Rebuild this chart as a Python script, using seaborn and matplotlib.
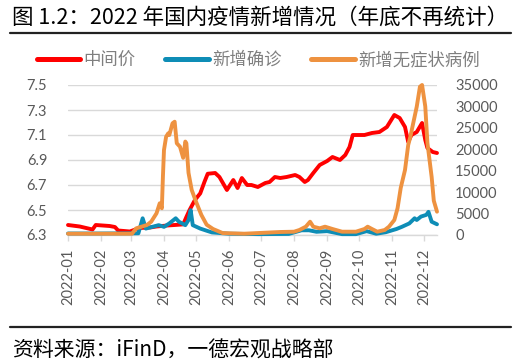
import pandas as pd
import matplotlib
matplotlib.use('Agg')
import matplotlib.pyplot as plt
import matplotlib.dates as mdates
from matplotlib.lines import Line2D
from matplotlib.ticker import FuncFormatter
import seaborn as sns

# 中间价 (left axis)
rate_dates = ['2022-01-01', '2022-01-12', '2022-01-24', '2022-01-27', '2022-02-09', '2022-02-14',
              '2022-02-17', '2022-02-28', '2022-03-09', '2022-03-19', '2022-03-25', '2022-04-04',
              '2022-04-11', '2022-04-19', '2022-04-22', '2022-04-25', '2022-04-30', '2022-05-05',
              '2022-05-09', '2022-05-12', '2022-05-19', '2022-05-23', '2022-05-30', '2022-06-05',
              '2022-06-09', '2022-06-13', '2022-06-18', '2022-06-22', '2022-06-28', '2022-07-05',
              '2022-07-09', '2022-07-14', '2022-07-19', '2022-07-25', '2022-08-02', '2022-08-06',
              '2022-08-11', '2022-08-14', '2022-08-19', '2022-08-25', '2022-09-01', '2022-09-06',
              '2022-09-13', '2022-09-18', '2022-09-22', '2022-09-25', '2022-09-30', '2022-10-06',
              '2022-10-13', '2022-10-20', '2022-10-27', '2022-11-03', '2022-11-08', '2022-11-13',
              '2022-11-16', '2022-11-19', '2022-11-24', '2022-11-29', '2022-12-02', '2022-12-04',
              '2022-12-09', '2022-12-13']
rate_values = [6.38, 6.368, 6.344, 6.38, 6.372, 6.364,
               6.336, 6.328, 6.356, 6.36, 6.368, 6.376,
               6.38, 6.385, 6.444, 6.50, 6.58, 6.633,
               6.726, 6.79, 6.796, 6.764, 6.66, 6.74,
               6.676, 6.756, 6.70, 6.70, 6.684, 6.716,
               6.724, 6.764, 6.756, 6.764, 6.78, 6.764,
               6.724, 6.74, 6.796, 6.86, 6.892, 6.924,
               6.90, 6.94, 7.004, 7.10, 7.10, 7.10,
               7.116, 7.124, 7.164, 7.26, 7.236, 7.164,
               7.044, 7.10, 7.124, 7.196, 7.06, 6.996,
               6.964, 6.956]

# 新增确诊 (right axis)
conf_dates = ['2022-01-01', '2022-01-31', '2022-03-08', '2022-03-12', '2022-03-15', '2022-03-21',
              '2022-03-27', '2022-04-01', '2022-04-06', '2022-04-12', '2022-04-15', '2022-04-18',
              '2022-04-21', '2022-04-24', '2022-04-26', '2022-04-28', '2022-05-05', '2022-05-11',
              '2022-05-16', '2022-06-01', '2022-06-29', '2022-07-27', '2022-08-08', '2022-08-15',
              '2022-08-22', '2022-09-01', '2022-09-06', '2022-09-15', '2022-09-28', '2022-10-08',
              '2022-10-17', '2022-10-26', '2022-11-05', '2022-11-10', '2022-11-17', '2022-11-22',
              '2022-11-24', '2022-11-28', '2022-12-03', '2022-12-05', '2022-12-08', '2022-12-13']
conf_values = [350, 350, 400, 3900, 1500, 1900,
               2300, 1900, 2700, 3900, 3100, 2700,
               2300, 3500, 5800, 2300, 1500, 1000,
               600, 300, 200, 250, 1100, 1100,
               750, 900, 650, 200, 200, 900,
               300, 650, 1400, 1900, 2700, 3900,
               3500, 4300, 4700, 5400, 3100, 2500]

# 新增无症状病例 (right axis)
asym_dates = ['2022-01-01', '2022-03-02', '2022-03-06', '2022-03-16', '2022-03-20', '2022-03-25',
              '2022-03-28', '2022-03-30', '2022-03-31', '2022-04-01', '2022-04-03', '2022-04-05',
              '2022-04-06', '2022-04-09', '2022-04-11', '2022-04-13', '2022-04-16', '2022-04-19',
              '2022-04-21', '2022-04-22', '2022-04-24', '2022-04-27', '2022-05-01', '2022-05-06',
              '2022-05-11', '2022-05-17', '2022-05-26', '2022-06-15', '2022-07-19', '2022-08-01',
              '2022-08-06', '2022-08-09', '2022-08-12', '2022-08-16', '2022-08-19', '2022-08-25',
              '2022-08-30', '2022-09-06', '2022-09-15', '2022-09-28', '2022-10-06', '2022-10-09',
              '2022-10-13', '2022-10-18', '2022-10-25', '2022-10-29', '2022-11-03', '2022-11-06',
              '2022-11-09', '2022-11-13', '2022-11-16', '2022-11-18', '2022-11-20', '2022-11-24',
              '2022-11-27', '2022-11-29', '2022-12-02', '2022-12-04', '2022-12-08', '2022-12-10',
              '2022-12-13']
asym_values = [300, 300, 1560, 2330, 3100, 5060,
               7400, 6230, 13600, 19830, 22930, 23730,
               23330, 26060, 26430, 21400, 20600, 18000,
               21800, 21400, 14500, 10500, 7800, 4700,
               2400, 1400, 450, 300, 700, 770,
               1170, 1560, 1940, 3100, 1940, 1560,
               1940, 1400, 770, 770, 1400, 1940,
               1400, 770, 1170, 1940, 3500, 6230,
               11000, 15170, 21000, 22930, 25270, 29930,
               34600, 35000, 30000, 21500, 13500, 8000,
               5440]

labels = ['中间价', '新增确诊', '新增无症状病例']
colors = ['#FF0000', '#0E8DB6', '#EE9240']
left_ticks = [6.3, 6.5, 6.7, 6.9, 7.1, 7.3, 7.5]
right_ticks = [0, 5000, 10000, 15000, 20000, 25000, 30000, 35000]

sns.set_style('white')
plt.rcParams['font.family'] = ['Lato', 'Noto Sans CJK SC', 'DejaVu Sans']
cjk = ['Noto Sans CJK SC', 'DejaVu Sans']
grey = '#595959'
light = '#d9d9d9'

rate = pd.DataFrame({'date': pd.to_datetime(rate_dates), 'value': rate_values})
conf = pd.DataFrame({'date': pd.to_datetime(conf_dates), 'value': conf_values})
asym = pd.DataFrame({'date': pd.to_datetime(asym_dates), 'value': asym_values})

fig = plt.figure(figsize=(5.27, 3.63), dpi=100)
ax = fig.add_axes([68 / 527, 1 - 235 / 363, 369 / 527, 150 / 363])
ax2 = ax.twinx()

line_kw = dict(lw=2.8, solid_joinstyle='round', solid_capstyle='round', clip_on=False)
sns.lineplot(data=rate, x='date', y='value', ax=ax, color=colors[0], **line_kw)
sns.lineplot(data=conf, x='date', y='value', ax=ax2, color=colors[1], **line_kw)
sns.lineplot(data=asym, x='date', y='value', ax=ax2, color=colors[2], **line_kw)

ax.set_xlim(pd.Timestamp('2022-01-01'), pd.Timestamp('2022-12-13'))
ax.set_ylim(6.3, 7.5)
ax2.set_ylim(0, 35000)
ax.set_yticks(left_ticks)
ax2.set_yticks(right_ticks)
ax.yaxis.set_major_formatter(FuncFormatter(lambda v, p: f'{v:.1f}'))
ax2.yaxis.set_major_formatter(FuncFormatter(lambda v, p: f'{int(v)}'))
ax.set_xlabel('')
ax.set_ylabel('')
ax2.set_ylabel('')

ax.xaxis.set_major_locator(mdates.MonthLocator())
ax.xaxis.set_major_formatter(mdates.DateFormatter('%Y-%m'))
ax.tick_params(axis='x', rotation=90, length=4, width=1, color=light,
               labelcolor=grey, labelsize=10.5, pad=6, bottom=True)
ax.tick_params(axis='y', length=0, pad=15, labelcolor=grey, labelsize=10.5)
ax2.tick_params(axis='y', length=0, pad=13, labelcolor=grey, labelsize=10.5)

ax.grid(axis='y', color=light, lw=1)
ax.grid(axis='x', visible=False)
for side in ['top', 'left', 'right']:
    ax.spines[side].set_visible(False)
ax.spines['bottom'].set_color(light)
ax.spines['bottom'].set_linewidth(1)
for side in ax2.spines:
    ax2.spines[side].set_visible(False)

handles = [Line2D([], [], color=c, lw=3.6, solid_capstyle='round') for c in colors]
fig.legend(handles, labels, loc='center', bbox_to_anchor=(0.49, 1 - 60 / 363), ncol=3,
           frameon=False, handlelength=2.5, handletextpad=0.2, columnspacing=1.7,
           prop={'family': cjk, 'size': 12.5}, labelcolor='#7f7f7f')

fig.text(12 / 527, 1 - 18 / 363, '图 1.2：2022 年国内疫情新增情况（年底不再统计）',
         fontsize=15.5, family=cjk, color='black', ha='left', va='center')
fig.add_artist(Line2D([10 / 527, 511 / 527], [1 - 33 / 363] * 2, transform=fig.transFigure,
                      color='#222222', lw=1.6))
fig.add_artist(Line2D([10 / 527, 511 / 527], [1 - 327 / 363] * 2, transform=fig.transFigure,
                      color='#222222', lw=1.6))
fig.text(12 / 527, 1 - 351 / 363, '资料来源：iFinD，一德宏观战略部',
         fontsize=15, family=cjk, color='black', ha='left', va='center')

fig.savefig('out.png', dpi=100)
